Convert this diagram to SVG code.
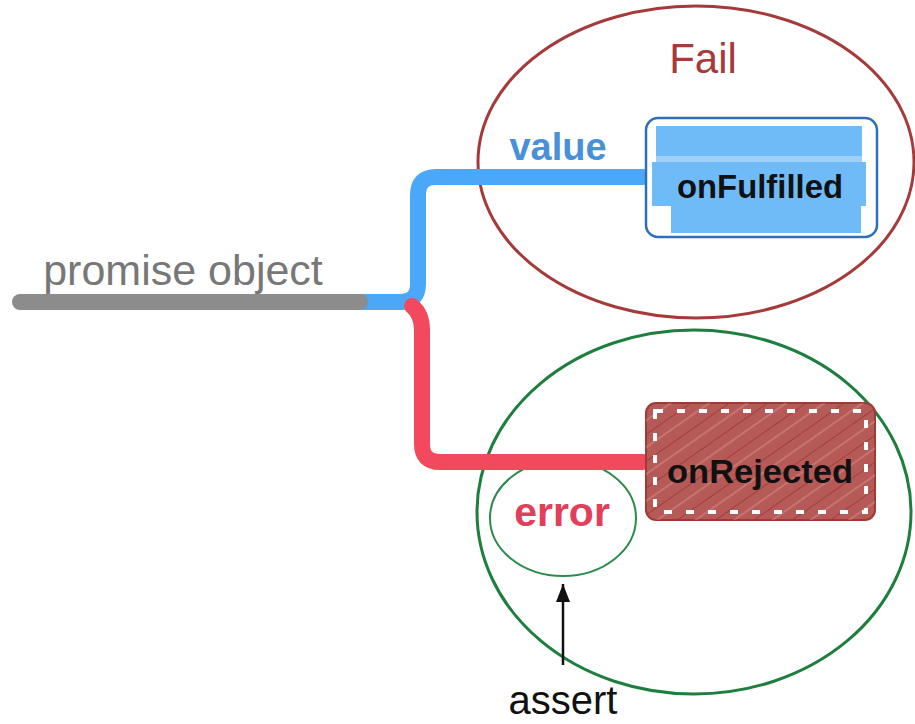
<svg xmlns="http://www.w3.org/2000/svg" width="915" height="724" viewBox="0 0 915 724">
<style>
.hand{font-family:"Liberation Sans","DejaVu Sans",sans-serif;}
.lbl{font-family:"Liberation Sans",Arial,sans-serif;}
.wire{fill:none;stroke-width:16;stroke-linecap:round;stroke-linejoin:round;}
</style>
<defs>
<pattern id="hatch" patternUnits="userSpaceOnUse" width="22" height="22" patternTransform="rotate(-35)">
<line x1="0" y1="0" x2="22" y2="0" stroke="#9C3333" stroke-width="1.5"/>
<line x1="0" y1="11" x2="22" y2="11" stroke="#E8B0AC" stroke-width="1" opacity="0.6"/>
</pattern>
<marker id="arr" viewBox="0 0 18 14" refX="18" refY="7" markerWidth="18" markerHeight="14" orient="auto" markerUnits="userSpaceOnUse">
<path d="M0,0 L18,7 L0,14 z" fill="#111"/>
</marker>
</defs>
<rect width="915" height="724" fill="#fff"/>

<g id="fail-region">
<ellipse cx="696" cy="162" rx="218" ry="156" fill="none" stroke="#A53A3A" stroke-width="3"/>
<text class="hand" x="703" y="73" font-size="42" fill="#A53A3A" text-anchor="middle">Fail</text>
</g>
<g id="pass-region">
<ellipse cx="694" cy="512" rx="217" ry="182" fill="none" stroke="#1E7E3E" stroke-width="3"/>
</g>
<g id="error-region">
<ellipse cx="563" cy="518" rx="73" ry="58" fill="none" stroke="#2E8B4E" stroke-width="2"/>
</g>

<g id="connectors">
<path class="wire" d="M360,302 L400,302 Q418,302 418,284 L418,195 Q418,177 436,177 L643,177" stroke="#4BA8F8"/>
<path class="wire" d="M412,306 Q422,314 422,330 L422,444 Q422,462 440,462 L643,462" stroke="#F2495F"/>
<line x1="20" y1="302" x2="360" y2="302" stroke="#8C8C8C" stroke-width="16" stroke-linecap="round"/>
<line x1="563" y1="665" x2="563" y2="584" stroke="#111" stroke-width="2.5" marker-end="url(#arr)"/>
</g>

<g id="promise">
<text class="hand" x="183" y="285" font-size="43" fill="#777" text-anchor="middle">promise object</text>
</g>
<g id="value-label">
<text class="hand" x="558" y="160" font-size="38" font-weight="bold" fill="#4A90D9" text-anchor="middle">value</text>
</g>
<g id="error-label">
<text class="hand" x="562" y="526" font-size="41" font-weight="bold" fill="#E0405A" text-anchor="middle">error</text>
</g>

<g id="onFulfilled">
<rect x="646" y="118" width="231" height="119" rx="12" fill="#fff" stroke="#2D6FB8" stroke-width="2.5"/>
<rect x="656" y="126" width="206" height="32" fill="#6FBBF8"/>
<rect x="652" y="162" width="214" height="44" fill="#6FBBF8"/>
<rect x="671" y="206" width="190" height="27" fill="#6FBBF8"/>
<rect x="656" y="156" width="206" height="6" fill="#9ED1FA"/>
<text class="hand" x="760" y="198" font-size="34" font-weight="bold" fill="#111" text-anchor="middle" textLength="166" lengthAdjust="spacingAndGlyphs">onFulfilled</text>
</g>

<g id="onRejected">
<rect x="646" y="403" width="229" height="117" rx="10" fill="#B65A57" stroke="#A03A37" stroke-width="2"/>
<rect x="646" y="403" width="229" height="117" rx="10" fill="url(#hatch)"/>
<rect x="655" y="411" width="211" height="101" fill="none" stroke="#fff" stroke-width="4" stroke-dasharray="8 14"/>
<text class="hand" x="760" y="483" font-size="34" font-weight="bold" fill="#111" text-anchor="middle" textLength="186" lengthAdjust="spacingAndGlyphs">onRejected</text>
</g>

<g id="assert">
<text class="lbl" x="563" y="714" font-size="40" fill="#111" text-anchor="middle">assert</text>
</g>
</svg>
